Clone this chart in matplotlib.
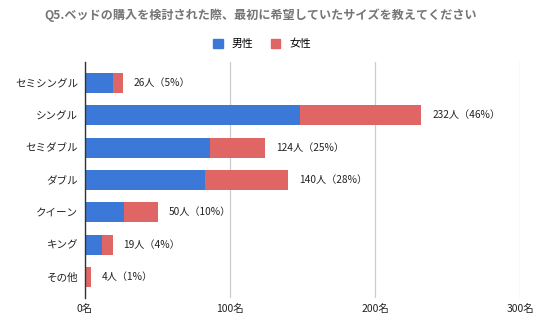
import matplotlib
matplotlib.use("Agg")
import matplotlib.pyplot as plt
from matplotlib.patches import Patch

plt.rcParams['font.family'] = ['Noto Sans CJK JP', 'DejaVu Sans']

categories = ["セミシングル", "シングル", "セミダブル", "ダブル", "クイーン", "キング", "その他"]
male = [19, 148, 86, 83, 27, 12, 1]
female = [7, 84, 38, 57, 23, 7, 3]
totals = [26, 232, 124, 140, 50, 19, 4]
percents = [5, 46, 25, 28, 10, 4, 1]
xticks = [0, 100, 200, 300]

blue = "#3c78d8"
red = "#e06666"

fig = plt.figure(figsize=(5.36, 3.32), dpi=100)
ax = fig.add_axes([85 / 536, 1 - 298 / 332, 435 / 536, 236 / 332])

ypos = list(range(len(categories)))
ax.barh(ypos, male, height=0.62, color=blue, label="男性")
ax.barh(ypos, female, left=male, height=0.62, color=red, label="女性")

for y, t, p in zip(ypos, totals, percents):
    ax.text(t + 7.5, y, f"{t}人（{p}%）", va="center", ha="left",
            fontsize=7.3, color="#222222")

ax.set_xlim(0, 300)
ax.set_ylim(6.65, -0.65)
ax.set_yticks(ypos)
ax.set_yticklabels(categories, fontsize=7.6, color="#222222")
ax.set_xticks(xticks)
ax.set_xticklabels([f"{v}名" for v in xticks], fontsize=7.5, color="#222222")
ax.tick_params(axis="both", length=0, pad=5)
ax.tick_params(axis="x", pad=4)

ax.grid(axis="x", color="#cccccc", linewidth=0.9)
ax.set_axisbelow(True)
for s in ["top", "right", "bottom"]:
    ax.spines[s].set_visible(False)
ax.spines["left"].set_color("#333333")
ax.spines["left"].set_linewidth(1.0)
ax.spines["left"].set_zorder(3)

fig.text(261 / 536, 1 - 15 / 332, "Q5.ベッドの購入を検討された際、最初に希望していたサイズを教えてください",
         ha="center", va="center", fontsize=8.7, fontweight="bold", color="#757575")

handles = [Patch(color=blue, label="男性"), Patch(color=red, label="女性")]
fig.legend(handles=handles, loc="center", bbox_to_anchor=(262 / 536, 1 - 44 / 332), ncol=2,
           frameon=False, fontsize=7.8, handlelength=0.9, handleheight=0.9,
           handletextpad=0.8, columnspacing=1.6)

fig.savefig("out.png", dpi=100)
